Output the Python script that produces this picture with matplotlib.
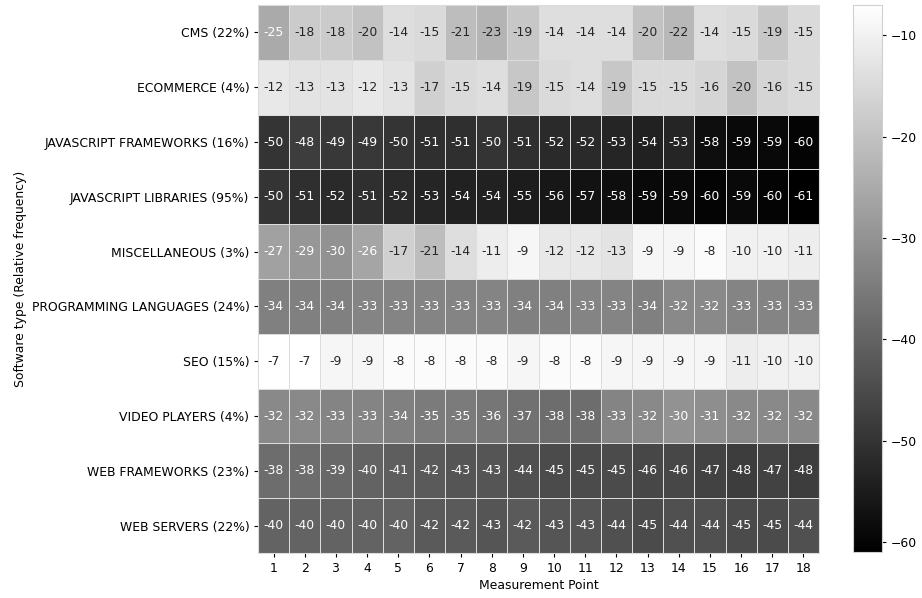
import numpy as np
import matplotlib
matplotlib.use("Agg")
import matplotlib.pyplot as plt

categories = [
    "CMS (22%)",
    "ECOMMERCE (4%)",
    "JAVASCRIPT FRAMEWORKS (16%)",
    "JAVASCRIPT LIBRARIES (95%)",
    "MISCELLANEOUS (3%)",
    "PROGRAMMING LANGUAGES (24%)",
    "SEO (15%)",
    "VIDEO PLAYERS (4%)",
    "WEB FRAMEWORKS (23%)",
    "WEB SERVERS (22%)",
]
points = list(range(1, 19))

cms = [-25, -18, -18, -20, -14, -15, -21, -23, -19, -14, -14, -14, -20, -22, -14, -15, -19, -15]
ecommerce = [-12, -13, -13, -12, -13, -17, -15, -14, -19, -15, -14, -19, -15, -15, -16, -20, -16, -15]
js_frameworks = [-50, -48, -49, -49, -50, -51, -51, -50, -51, -52, -52, -53, -54, -53, -58, -59, -59, -60]
js_libraries = [-50, -51, -52, -51, -52, -53, -54, -54, -55, -56, -57, -58, -59, -59, -60, -59, -60, -61]
misc = [-27, -29, -30, -26, -17, -21, -14, -11, -9, -12, -12, -13, -9, -9, -8, -10, -10, -11]
prog_langs = [-34, -34, -34, -33, -33, -33, -33, -33, -34, -34, -33, -33, -34, -32, -32, -33, -33, -33]
seo = [-7, -7, -9, -9, -8, -8, -8, -8, -9, -8, -8, -9, -9, -9, -9, -11, -10, -10]
video_players = [-32, -32, -33, -33, -34, -35, -35, -36, -37, -38, -38, -33, -32, -30, -31, -32, -32, -32]
web_frameworks = [-38, -38, -39, -40, -41, -42, -43, -43, -44, -45, -45, -45, -46, -46, -47, -48, -47, -48]
web_servers = [-40, -40, -40, -40, -40, -42, -42, -43, -42, -43, -43, -44, -45, -44, -44, -45, -45, -44]

data = np.array([cms, ecommerce, js_frameworks, js_libraries, misc,
                 prog_langs, seo, video_players, web_frameworks, web_servers], dtype=float)

FS = 8.9
plt.rcParams.update({
    "font.size": FS,
    "xtick.major.size": 3.1,
    "ytick.major.size": 3.1,
    "xtick.major.pad": 3.1,
    "ytick.major.pad": 3.1,
    "axes.labelpad": 3.5,
})

W, H = 922, 598
fig = plt.figure(figsize=(W / 100, H / 100), dpi=100)
ax = fig.add_axes([258 / W, 1 - 553 / H, (819 - 258) / W, (553 - 5) / H])
cax = fig.add_axes([853 / W, 1 - 552 / H, 29 / W, 547 / H])

cmap = plt.get_cmap("gray")
vmin, vmax = data.min(), data.max()
norm = matplotlib.colors.Normalize(vmin=vmin, vmax=vmax)
mesh = ax.pcolormesh(data, cmap=cmap, norm=norm, edgecolors="#dcdcdc", linewidth=0.6)
ax.set_xlim(0, data.shape[1])
ax.set_ylim(data.shape[0], 0)


def rel_luminance(rgba):
    rgb = np.array(rgba[:3])
    rgb = np.where(rgb <= 0.03928, rgb / 12.92, ((rgb + 0.055) / 1.055) ** 2.4)
    return rgb @ np.array([0.2126, 0.7152, 0.0722])


for i in range(data.shape[0]):
    for j in range(data.shape[1]):
        v = data[i, j]
        lum = rel_luminance(cmap(norm(v)))
        color = "#262626" if lum > 0.408 else "white"
        ax.text(j + 0.5, i + 0.5, f"{v:.0f}", ha="center", va="center",
                fontsize=FS, color=color)

ax.set_xticks(np.arange(len(points)) + 0.5)
ax.set_xticklabels([str(p) for p in points])
ax.set_yticks(np.arange(len(categories)) + 0.5)
ax.set_yticklabels(categories)
ax.set_xlabel("Measurement Point")
ax.set_ylabel("Software type (Relative frequency)")
for s in ax.spines.values():
    s.set_color("#dcdcdc")
    s.set_linewidth(0.8)

cb = fig.colorbar(mesh, cax=cax)
cb.set_ticks([-10, -20, -30, -40, -50, -60])
cb.outline.set_edgecolor("#d0d0d0")
cb.outline.set_linewidth(0.8)

fig.savefig("out.png", dpi=100)
